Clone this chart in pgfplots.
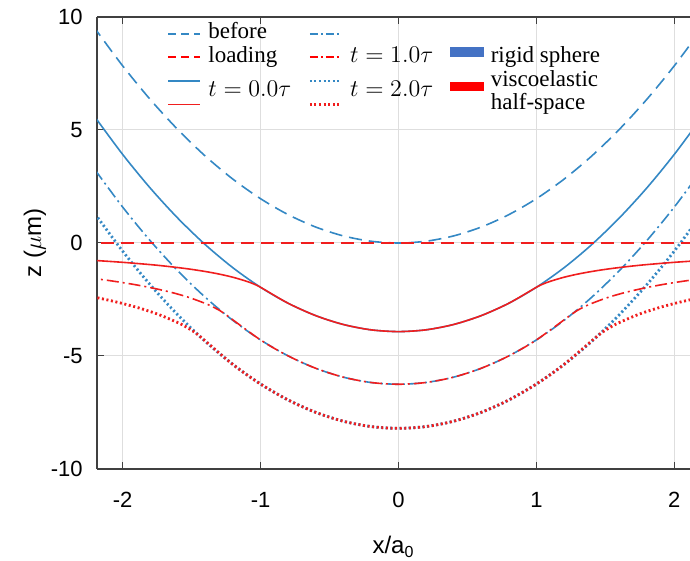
\documentclass[border=0pt]{standalone}
\usepackage{fontspec}
\setmainfont{Liberation Serif}
\setsansfont{Liberation Sans}
\usepackage{pgfplots}
\pgfplotsset{compat=1.18}

\definecolor{lblue}{RGB}{52,136,196}
\definecolor{lred}{RGB}{240,30,30}
\definecolor{rectblue}{RGB}{68,114,196}
\definecolor{rectred}{RGB}{255,0,0}
\definecolor{gridgray}{RGB}{222,222,222}

\tikzset{
  dsh/.style={dash pattern=on 6.5pt off 3.5pt},
  dshdot/.style={dash pattern=on 6pt off 2pt on 1pt off 2pt},
  dts/.style={line width=1.4pt, line cap=butt, dash pattern=on 1pt off 1.3pt},
}

\begin{document}
\begin{tikzpicture}
\useasboundingbox (-48.5pt,-46pt) rectangle (296.5pt,234.5pt);
\begin{axis}[
  scale only axis, width=296.5pt, height=226pt,
  xmin=-2.186, xmax=2.114, ymin=-10, ymax=10,
  axis y line*=left,
  xtick={-2,-1,0,1,2}, xticklabels={-2,-1,0,1,2},
  ytick={-10,-5,0,5,10}, yticklabels={-10,-5,0,5,10},
  tick label style={font=\sffamily\fontsize{11}{13}\selectfont},
  xticklabel style={anchor=center, inner sep=0pt, yshift=-15.5pt},
  yticklabel style={anchor=east, inner sep=0pt, xshift=-7pt},
  grid=major, major grid style={gridgray, line width=0.5pt},
  axis line style={black!75, line width=0.6pt},
  tick style={black!75, line width=0.5pt}, major tick length=3.5pt,
  xlabel={x/a\textsubscript{0}}, ylabel={z ($\mu$m)},
  label style={font=\sffamily\fontsize{12}{14}\selectfont},
  xlabel style={at={(axis description cs:0.5,0)}, anchor=center, yshift=-39pt},
  ylabel style={at={(axis description cs:-0.1045,0.5)}, anchor=center},
  every axis plot/.append style={line width=0.8pt},
  legend columns=3,
  legend cell align=left,
  legend style={draw=none, fill=none, at={(0.118,0.99)}, anchor=north west,
    font=\fontsize{11.5}{13}\selectfont, inner sep=0pt, row sep=0pt,
    nodes={inner sep=0.5pt, text height=8pt, text depth=2.8pt},
    /tikz/every odd column/.style={column sep=3pt},
    /tikz/every even column/.style={column sep=8pt}},
]
% rigid sphere before loading
\addplot[lblue, dsh, smooth, forget plot] coordinates {
(-2.3,10.368)(-2.2,9.4864)(-2.0,7.84)(-1.8,6.3504)(-1.6,5.0176)(-1.4,3.8416)(-1.2,2.8224)(-1.0,1.96)(-0.8,1.2544)(-0.6,0.7056)(-0.4,0.3136)(-0.2,0.0784)(0,0)
(0.2,0.0784)(0.4,0.3136)(0.6,0.7056)(0.8,1.2544)(1.0,1.96)(1.2,2.8224)(1.4,3.8416)(1.6,5.0176)(1.8,6.3504)(2.0,7.84)(2.2,9.4864)(2.3,10.368)};
% rigid sphere t=0
\addplot[lblue, smooth, forget plot] coordinates {
(-2.2,5.566)(-2.0,3.92)(-1.8,2.430)(-1.6,1.098)(-1.4,-0.078)(-1.2,-1.098)(-1.0,-1.96)(-0.8,-2.666)(-0.6,-3.214)(-0.4,-3.606)(-0.2,-3.842)(0,-3.92)
(0.2,-3.842)(0.4,-3.606)(0.6,-3.214)(0.8,-2.666)(1.0,-1.96)(1.2,-1.098)(1.4,-0.078)(1.6,1.098)(1.8,2.430)(2.0,3.92)(2.2,5.566)};
% rigid sphere t=1
\addplot[lblue, dshdot, smooth, forget plot] coordinates {
(-2.2,3.236)(-2.0,1.59)(-1.8,0.100)(-1.6,-1.232)(-1.4,-2.408)(-1.2,-3.428)(-1.0,-4.29)(-0.8,-4.996)(-0.6,-5.544)(-0.4,-5.936)(-0.2,-6.172)(0,-6.25)
(0.2,-6.172)(0.4,-5.936)(0.6,-5.544)(0.8,-4.996)(1.0,-4.29)(1.2,-3.428)(1.4,-2.408)(1.6,-1.232)(1.8,0.100)(2.0,1.59)(2.2,3.236)};
% rigid sphere t=2
\addplot[lblue, dts, smooth, forget plot] coordinates {
(-2.2,1.286)(-2.0,-0.36)(-1.8,-1.850)(-1.6,-3.182)(-1.4,-4.358)(-1.2,-5.378)(-1.0,-6.24)(-0.8,-6.946)(-0.6,-7.494)(-0.4,-7.886)(-0.2,-8.122)(0,-8.2)
(0.2,-8.122)(0.4,-7.886)(0.6,-7.494)(0.8,-6.946)(1.0,-6.24)(1.2,-5.378)(1.4,-4.358)(1.6,-3.182)(1.8,-1.850)(2.0,-0.36)(2.2,1.286)};
% half-space before loading
\addplot[draw=lred, dsh, forget plot] coordinates {(-2.3,0)(2.3,0)};
% half-space t=0
\addplot[draw=lred, smooth, forget plot] coordinates {
(-2.2,-0.773)(-2.0,-0.855)(-1.8,-0.956)(-1.7,-1.017)(-1.6,-1.087)(-1.5,-1.167)(-1.4,-1.262)(-1.3,-1.376)(-1.2,-1.516)(-1.1,-1.697)(-1.05,-1.812)(-1.0,-1.96)(-0.8,-2.666)(-0.6,-3.214)(-0.4,-3.606)(-0.2,-3.842)(0,-3.92)
(0.2,-3.842)(0.4,-3.606)(0.6,-3.214)(0.8,-2.666)(1.0,-1.96)(1.05,-1.812)(1.1,-1.697)(1.2,-1.516)(1.3,-1.376)(1.4,-1.262)(1.5,-1.167)(1.6,-1.087)(1.7,-1.017)(1.8,-0.956)(2.0,-0.855)(2.2,-0.773)};
% half-space t=1
\addplot[draw=lred, dshdot, smooth, forget plot] coordinates {
(-2.273,-1.524)(-2.146,-1.621)(-2.020,-1.733)(-1.894,-1.861)(-1.768,-2.013)(-1.641,-2.194)(-1.515,-2.417)(-1.389,-2.705)(-1.326,-2.889)(-1.2626,-3.125)(-1.0,-4.29)(-0.8,-4.996)(-0.6,-5.544)(-0.4,-5.936)(-0.2,-6.172)(0,-6.25)
(0.2,-6.172)(0.4,-5.936)(0.6,-5.544)(0.8,-4.996)(1.0,-4.29)(1.2626,-3.125)(1.326,-2.889)(1.389,-2.705)(1.515,-2.417)(1.641,-2.194)(1.768,-2.013)(1.894,-1.861)(2.020,-1.733)(2.146,-1.621)(2.273,-1.524)};
% half-space t=2
\addplot[draw=lred, dts, smooth, forget plot] coordinates {
(-2.314,-2.273)(-2.169,-2.442)(-2.025,-2.640)(-1.880,-2.878)(-1.736,-3.171)(-1.591,-3.549)(-1.519,-3.790)(-1.4463,-4.1)(-1.2,-5.378)(-1.0,-6.24)(-0.8,-6.946)(-0.6,-7.494)(-0.4,-7.886)(-0.2,-8.122)(0,-8.2)
(0.2,-8.122)(0.4,-7.886)(0.6,-7.494)(0.8,-6.946)(1.0,-6.24)(1.2,-5.378)(1.4463,-4.1)(1.519,-3.790)(1.591,-3.549)(1.736,-3.171)(1.880,-2.878)(2.025,-2.640)(2.169,-2.442)(2.314,-2.273)};

% legend (row-major, 3 columns)
\addlegendimage{legend image code/.code={\draw[lblue, line width=0.8pt, dash pattern=on 4pt off 2.5pt] (0pt,0pt) -- (16pt,0pt);}}\addlegendentry{before}
\addlegendimage{legend image code/.code={\draw[lblue, line width=0.8pt, dash pattern=on 4pt off 1.5pt on 1pt off 1.5pt] (0pt,0pt) -- (16pt,0pt);}}\addlegendentry{}
\addlegendimage{empty legend}\addlegendentry{}
\addlegendimage{legend image code/.code={\draw[color=rectred, line width=1pt, dash pattern=on 4pt off 2.5pt] (0pt,0pt) -- (16pt,0pt);}}\addlegendentry{loading}
\addlegendimage{legend image code/.code={\draw[color=rectred, line width=1pt, dash pattern=on 4pt off 1.5pt on 1pt off 1.5pt] (0pt,0pt) -- (16pt,0pt);}}\addlegendentry{$t = 1.0\tau$}
\addlegendimage{legend image code/.code={\fill[rectblue] (0pt,0.8pt) rectangle (16pt,4.6pt);}}\addlegendentry{rigid sphere}
\addlegendimage{legend image code/.code={\draw[lblue, line width=0.8pt] (0pt,0pt) -- (16pt,0pt);}}\addlegendentry{\raisebox{-5.4pt}[0pt][0pt]{$t = 0.0\tau$}}
\addlegendimage{legend image code/.code={\draw[lblue, dts] (0pt,0pt) -- (16pt,0pt);}}\addlegendentry{\raisebox{-5.4pt}[0pt][0pt]{$t = 2.0\tau$}}
\addlegendimage{legend image code/.code={\fill[rectred, overlay] (0pt,-4.6pt) rectangle (16pt,-0.8pt);}}\addlegendentry{viscoelastic}
\addlegendimage{legend image code/.code={\draw[lred, line width=0.8pt] (0pt,0pt) -- (16pt,0pt);}}\addlegendentry{}
\addlegendimage{legend image code/.code={\draw[lred, dts] (0pt,0pt) -- (16pt,0pt);}}\addlegendentry{}
\addlegendimage{empty legend}\addlegendentry{half-space}
\end{axis}
\end{tikzpicture}
\end{document}
